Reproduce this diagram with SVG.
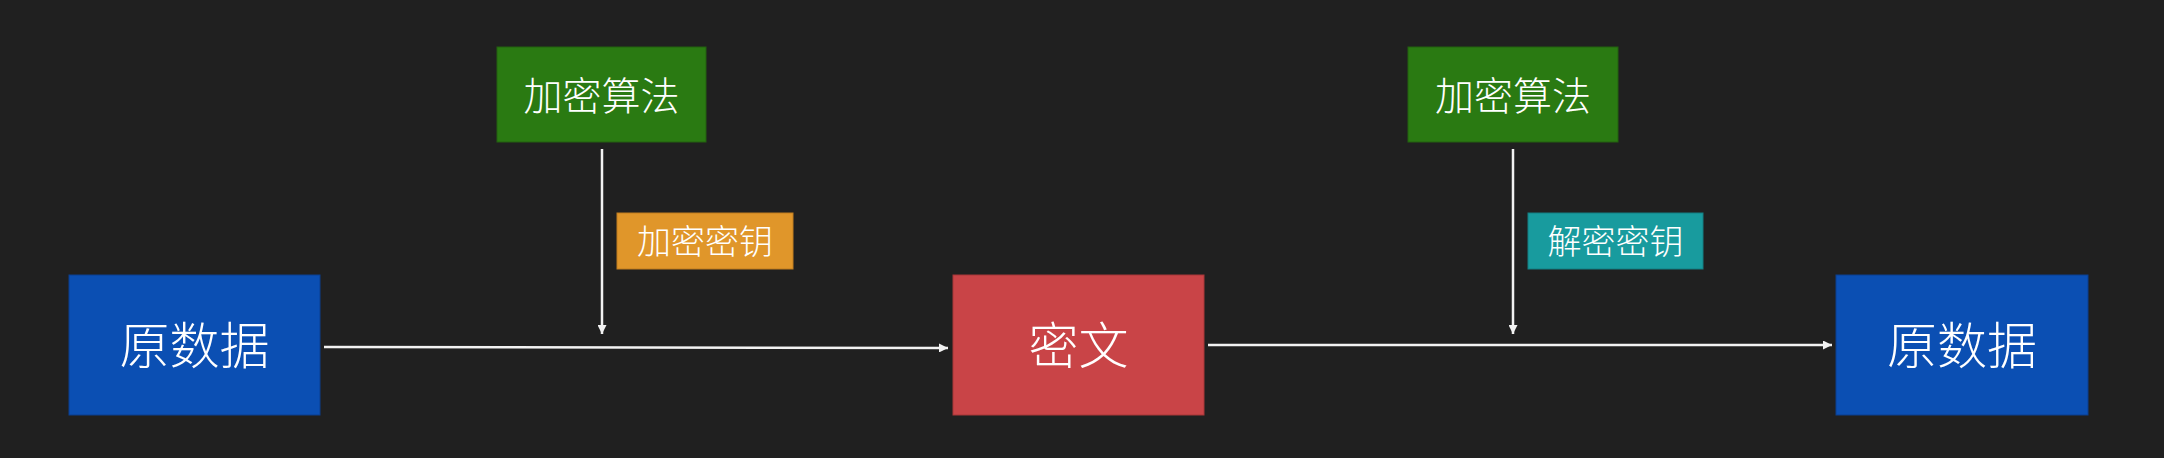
<svg xmlns="http://www.w3.org/2000/svg" width="2164" height="458" viewBox="0 0 2164 458">
<style>
.t{font-family:"Noto Sans CJK SC","Noto Sans",sans-serif;font-weight:300;fill:#ffffff;text-anchor:middle;dominant-baseline:central}
.c{stroke:#f2f2f2;stroke-width:2.5;fill:none}
</style>
<defs>
<marker id="ah" viewBox="0 0 10 10" refX="10" refY="5" markerWidth="10" markerHeight="9" markerUnits="userSpaceOnUse" orient="auto">
<path d="M0,0 L10,5 L0,10 z" fill="#f2f2f2"/>
</marker>
</defs>
<rect width="2164" height="458" fill="#202020"/>
<g id="src">
<rect x="69" y="275" width="251" height="140" fill="#0b4fb3" stroke="#0a3f8f" stroke-width="1"/>
<text class="t" x="194.5" y="342" font-size="50">原数据</text>
</g>
<g id="algo1">
<rect x="497" y="47" width="209" height="95" fill="#2a7a12" stroke="#22600f" stroke-width="1"/>
<text class="t" x="601.5" y="92.5" font-size="39">加密算法</text>
</g>
<g id="key1">
<rect x="617" y="213" width="176" height="56" fill="#e0962a" stroke="#c07d1f" stroke-width="1"/>
<text class="t" x="705" y="239.5" font-size="34">加密密钥</text>
</g>
<g id="cipher">
<rect x="953" y="275" width="251" height="140" fill="#c94447" stroke="#a83639" stroke-width="1"/>
<text class="t" x="1078.5" y="342" font-size="50">密文</text>
</g>
<g id="algo2">
<rect x="1408" y="47" width="210" height="95" fill="#2a7a12" stroke="#22600f" stroke-width="1"/>
<text class="t" x="1513" y="92.5" font-size="39">加密算法</text>
</g>
<g id="key2">
<rect x="1528" y="213" width="175" height="56" fill="#189b9e" stroke="#137f82" stroke-width="1"/>
<text class="t" x="1615.5" y="239.5" font-size="34">解密密钥</text>
</g>
<g id="dst">
<rect x="1836" y="275" width="252" height="140" fill="#0b4fb3" stroke="#0a3f8f" stroke-width="1"/>
<text class="t" x="1962" y="342" font-size="50">原数据</text>
</g>
<g id="connectors">
<line class="c" x1="602" y1="149" x2="602" y2="334" marker-end="url(#ah)"/>
<line class="c" x1="324" y1="347" x2="948" y2="348" marker-end="url(#ah)"/>
<line class="c" x1="1513" y1="149" x2="1513" y2="334" marker-end="url(#ah)"/>
<line class="c" x1="1208" y1="345" x2="1832" y2="345" marker-end="url(#ah)"/>
</g>
</svg>
